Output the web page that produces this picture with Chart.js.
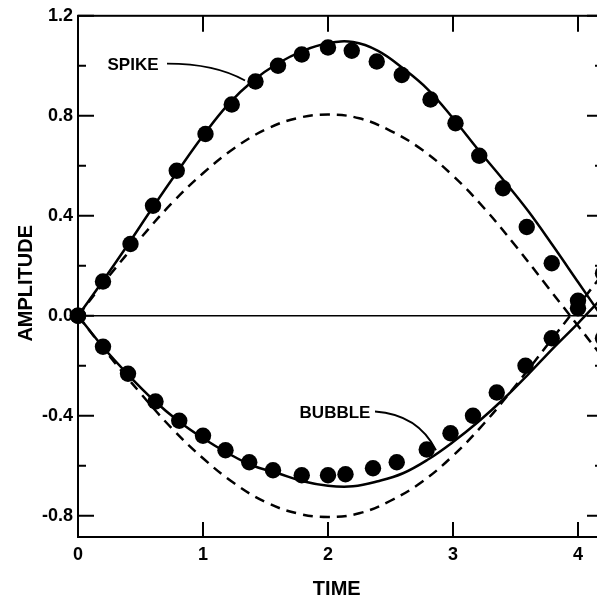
<!DOCTYPE html>
<html><head><meta charset="utf-8">
<script src="https://cdn.jsdelivr.net/npm/chart.js@4"></script>
<style>
html,body{margin:0;padding:0;overflow:hidden;background:#fff;width:597px;height:603px}
#wrap{position:absolute;left:0;top:0;width:620px;height:603px}
</style>
</head><body><div id="wrap"><canvas id="c" width="620" height="603"></canvas></div>
<script>
// ---- data ----
const theoryTime = [0,0.2,0.4,0.6,0.8,1.0,1.2,1.4,1.6,1.8,2.0,2.2,2.4,2.6,2.8,3.0,3.2,3.4,3.6,3.8,4.0,4.2];
const spikeTheory = [0,0.14,0.285,0.435,0.58,0.72,0.845,0.94,1.01,1.06,1.09,1.095,1.06,0.99,0.905,0.79,0.665,0.545,0.42,0.28,0.135,-0.01];
const bubbleTheory = [0,-0.125,-0.235,-0.335,-0.42,-0.49,-0.55,-0.6,-0.63,-0.662,-0.68,-0.682,-0.662,-0.63,-0.575,-0.505,-0.425,-0.335,-0.235,-0.13,-0.03,0.075];

const linearTime = [0,0.25,0.5,0.75,1.0,1.25,1.5,1.75,2.0,2.25,2.5,2.75,3.0,3.25,3.5,3.75,4.0,4.25];
const linearUpper = [0,0.16,0.31,0.45,0.57,0.67,0.745,0.79,0.805,0.79,0.74,0.665,0.56,0.43,0.28,0.12,-0.04,-0.2];
const linearLower = [0,-0.16,-0.31,-0.45,-0.57,-0.67,-0.745,-0.79,-0.805,-0.79,-0.74,-0.665,-0.56,-0.43,-0.28,-0.12,0.04,0.2];

const spikeDotTime = [0,0.2,0.42,0.6,0.79,1.02,1.23,1.42,1.6,1.79,2.0,2.19,2.39,2.59,2.82,3.02,3.21,3.4,3.59,3.79,4.0,4.2];
const spikeDotAmp  = [0,0.137,0.287,0.44,0.58,0.727,0.845,0.937,1.0,1.045,1.073,1.06,1.017,0.963,0.865,0.77,0.64,0.51,0.355,0.21,0.06,-0.09];
const bubbleDotTime = [0,0.2,0.4,0.62,0.81,1.0,1.18,1.37,1.56,1.79,2.0,2.14,2.36,2.55,2.79,2.98,3.16,3.35,3.58,3.79,4.0,4.2];
const bubbleDotAmp  = [0,-0.124,-0.232,-0.343,-0.42,-0.48,-0.538,-0.586,-0.618,-0.638,-0.638,-0.634,-0.61,-0.586,-0.535,-0.47,-0.40,-0.307,-0.2,-0.09,0.03,0.17];

const xTickValues = [0,1,2,3,4];
const xTickLabels = ['0','1','2','3','4'];
const yTickValues = [1.2,0.8,0.4,0,-0.4,-0.8];
const yTickLabels = ['1.2','0.8','0.4','0.0','-0.4','-0.8'];
const yMinorTicks = [1.0,0.6,0.2,-0.2,-0.6];
const xTitle = 'TIME';
const yTitle = 'AMPLITUDE';
const curveLabels = ['SPIKE','BUBBLE'];

// ---- helpers ----
const pts = (xs, ys) => xs.map((x,i)=>({x:x, y:ys[i]}));
const FONT = '"Liberation Sans", Arial, sans-serif';

// annotation anchors in data units (time, amplitude)
const notes = [
  {text: curveLabels[0], at:[0.44,1.0], from:[0.712,1.009], ctrl:[1.10,1.009], to:[1.336,0.941]},
  {text: curveLabels[1], at:[2.056,-0.391], from:[2.376,-0.383], ctrl:[2.72,-0.395], to:[2.864,-0.538]}
];

const framePlugin = {
  id:'frame',
  beforeDatasetsDraw(chart){
    const {ctx, chartArea:a, scales:{y}} = chart;
    ctx.save();
    ctx.strokeStyle='#000'; ctx.lineWidth=1.6;
    const y0 = y.getPixelForValue(0);
    ctx.beginPath(); ctx.moveTo(a.left,y0); ctx.lineTo(a.right,y0); ctx.stroke();
    ctx.restore();
  },
  afterDatasetsDraw(chart){
    const {ctx, chartArea:a, scales:{x,y}} = chart;
    ctx.save();
    ctx.strokeStyle='#000'; ctx.fillStyle='#000';
    ctx.lineWidth=2;
    ctx.strokeRect(a.left,a.top,a.right-a.left,a.bottom-a.top);
    ctx.beginPath();
    xTickValues.forEach(v=>{
      if (v===0) return;
      const px = x.getPixelForValue(v);
      ctx.moveTo(px,a.bottom); ctx.lineTo(px,a.bottom-15);
      ctx.moveTo(px,a.top); ctx.lineTo(px,a.top+16);
    });
    yTickValues.forEach(v=>{
      const py = y.getPixelForValue(v);
      ctx.moveTo(a.left,py); ctx.lineTo(a.left+16,py);
      ctx.moveTo(a.right,py); ctx.lineTo(a.right-16,py);
    });
    yMinorTicks.forEach(v=>{
      const py = y.getPixelForValue(v);
      ctx.moveTo(a.left,py); ctx.lineTo(a.left+8,py);
      ctx.moveTo(a.right,py); ctx.lineTo(a.right-8,py);
    });
    ctx.stroke();
    // annotations
    ctx.font = 'bold 17px ' + FONT;
    ctx.textAlign='center'; ctx.textBaseline='middle';
    ctx.lineWidth=1.8;
    notes.forEach(n=>{
      ctx.fillText(n.text, x.getPixelForValue(n.at[0]), y.getPixelForValue(n.at[1]));
      ctx.beginPath();
      ctx.moveTo(x.getPixelForValue(n.from[0]), y.getPixelForValue(n.from[1]));
      ctx.quadraticCurveTo(x.getPixelForValue(n.ctrl[0]), y.getPixelForValue(n.ctrl[1]),
                           x.getPixelForValue(n.to[0]), y.getPixelForValue(n.to[1]));
      ctx.stroke();
    });
    // axis titles
    ctx.font = 'bold 20px ' + FONT;
    ctx.fillText(xTitle, x.getPixelForValue(2.07), a.bottom + 52);
    ctx.save();
    ctx.translate(26, y.getPixelForValue(0.13));
    ctx.rotate(-Math.PI/2);
    ctx.fillText(yTitle, 0, 0);
    ctx.restore();
    ctx.restore();
  }
};

const lineDs = (data, dash) => ({
  data, showLine:true, borderColor:'#000', borderWidth:2.5, pointRadius:0,
  borderDash: dash || [], tension:0.4, fill:false
});
const dotDs = (data) => ({
  data, showLine:false, pointRadius:8.2, pointBackgroundColor:'#000',
  pointBorderWidth:0, clip:false
});

new Chart(document.getElementById('c').getContext('2d'), {
  type:'scatter',
  data:{datasets:[
    lineDs(pts(theoryTime, spikeTheory)),
    lineDs(pts(theoryTime, bubbleTheory)),
    lineDs(pts(linearTime, linearUpper), [10,7]),
    lineDs(pts(linearTime, linearLower), [10,7]),
    dotDs(pts(spikeDotTime, spikeDotAmp)),
    dotDs(pts(bubbleDotTime, bubbleDotAmp))
  ]},
  options:{
    responsive:false, animation:false, devicePixelRatio:1,
    layout:{padding:{top:14,right:17,left:0,bottom:0}},
    plugins:{legend:{display:false}, tooltip:{enabled:false}},
    scales:{
      x:{type:'linear', min:0, max:4.2,
        afterFit(s){ s.height = 66; },
        grid:{display:false, drawTicks:false}, border:{display:false},
        afterBuildTicks(s){ s.ticks = xTickValues.map(v=>({value:v})); },
        ticks:{padding:7, color:'#000', maxRotation:0, autoSkip:false,
          font:{family:FONT, weight:'bold', size:18},
          callback:(v)=>{ const i = xTickValues.indexOf(v); return i>=0 ? xTickLabels[i] : ''; }}
      },
      y:{type:'linear', min:-0.885, max:1.2,
        afterFit(s){ s.width = 78; },
        grid:{display:false, drawTicks:false}, border:{display:false},
        afterBuildTicks(s){ s.ticks = yTickValues.map(v=>({value:v})); },
        ticks:{padding:5, color:'#000', autoSkip:false,
          font:{family:FONT, weight:'bold', size:18},
          callback:(v)=>{ const i = yTickValues.findIndex(t=>Math.abs(t-v)<1e-6); return i>=0 ? yTickLabels[i] : ''; }}
      }
    }
  },
  plugins:[framePlugin]
});
</script>
</body></html>
